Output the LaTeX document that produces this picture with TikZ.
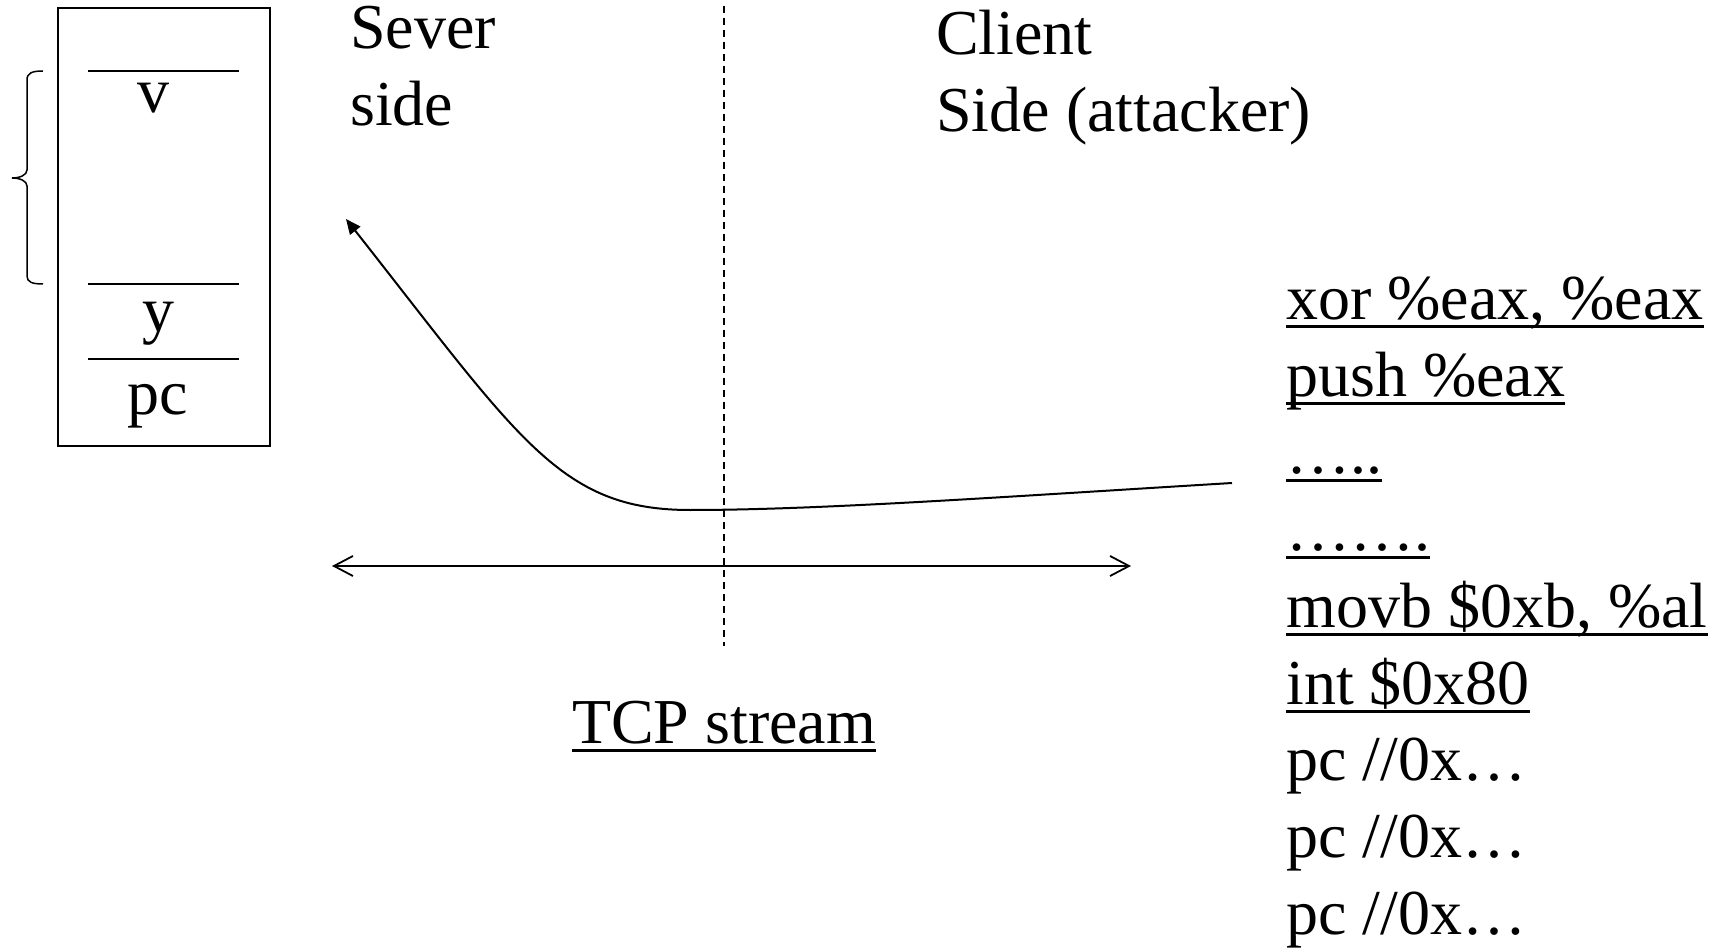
\documentclass[tikz,border=0pt]{standalone}
\usepackage{fontspec}
\setmainfont{Liberation Serif}
\usetikzlibrary{arrows.meta}
\begin{document}
\begin{tikzpicture}[x=1pt,y=-1pt,
  txt/.style={inner sep=0pt, anchor=base west, font=\fontsize{64}{77}\selectfont},
  ctxt/.style={inner sep=0pt, anchor=base, font=\fontsize{64}{77}\selectfont},
  ulline/.style={line width=3pt},
  thin line/.style={line width=1.5pt},
  boxstyle/.style={draw, line width=1.6pt, inner sep=0pt, minimum width=212pt, minimum height=438pt, anchor=north west},
  divider/.style={line width=1.3pt, dash pattern=on 7pt off 5pt},
  flow/.style={line width=2pt, -{Triangle[length=15pt,width=13pt]}},
  stream/.style={line width=1.8pt, {Straight Barb[length=19pt,width=20pt]}-{Straight Barb[length=19pt,width=20pt]}}
]
\useasboundingbox (0,0) rectangle (1727,949);
\fill[white] (0,0) rectangle (1727,949);

% stack box
\node[boxstyle] (stack) at (57,7) {};
\draw[thin line] (88,71) -- (239,71);
\draw[thin line] (88,284) -- (239,284);
\draw[thin line] (88,359) -- (239,359);
\node[ctxt] (v) at (153,113) {v};
\node[ctxt] (yv) at (158,332) {y};
\node[ctxt] (pcv) at (158,414) {pc};

% brace
\draw[thin line] (43,71) .. controls (32,71) and (27,73) .. (27,80) -- (27,170)
  .. controls (27,175) and (20,178) .. (12,178)
  .. controls (20,178) and (27,181) .. (27,186) -- (27,276)
  .. controls (27,282) and (32,284) .. (43,284);

% headings
\node[txt] (sever) at (350,49) {Sever};
\node[txt] (side) at (350,126) {side};
\node[txt] (client) at (936,55) {Client};
\node[txt] (cside) at (936,132) {Side (attacker)};

% divider
\coordinate (dtop) at (724,6);
\coordinate (dbot) at (724,646);
\draw[divider] (dtop) -- (dbot);

% TCP stream arrow
\coordinate (sl) at (332,566);
\coordinate (sr) at (1131,566);
\draw[stream] (sl) -- (sr);

\node[txt] (tcp) at (572,743) {TCP stream};
\draw[ulline] ([yshift=-7pt]tcp.base west) -- ([yshift=-7pt]tcp.base east);

% flow curve
\coordinate (cstart) at (1232,483);
\coordinate (ctip) at (346,219);
\draw[flow] (cstart) .. controls (1000,497) and (820,510) .. (690,510)
  .. controls (560,510) and (520,440) .. (ctip);

% code column
\node[txt] (c1) at (1286,320) {xor \%eax, \%eax};
\node[txt] (c2) at (1286,396.8) {push \%eax};
\node[txt] (c3) at (1286,473.6) {…..};
\node[txt] (c4) at (1286,550.4) {…….};
\node[txt] (c5) at (1286,627.2) {movb \$0xb, \%al};
\node[txt] (c6) at (1286,704) {int \$0x80};
\node[txt] (c7) at (1286,780.8) {pc //0x…};
\node[txt] (c8) at (1286,857.6) {pc //0x…};
\node[txt] (c9) at (1286,934.4) {pc //0x…};
\foreach \n in {c1,c2,c3,c4,c5,c6}
  \draw[ulline] ([yshift=-7pt]\n.base west) -- ([yshift=-7pt]\n.base east);
\end{tikzpicture}
\end{document}
